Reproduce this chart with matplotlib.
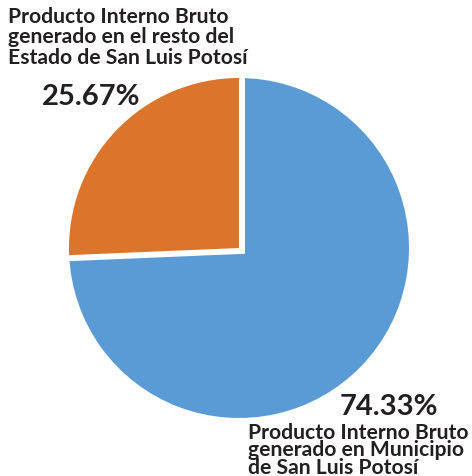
import matplotlib
matplotlib.use("Agg")
import matplotlib.pyplot as plt

# data
labels = [
    "Producto Interno Bruto\ngenerado en Municipio\nde San Luis Potosí",
    "Producto Interno Bruto\ngenerado en el resto del\nEstado de San Luis Potosí",
]
values = [74.33, 25.67]
colors = ["#5B9BD5", "#DB752C"]

plt.rcParams["font.family"] = ["Lato", "DejaVu Sans"]
text_color = "#231F20"

fig = plt.figure(figsize=(4.72, 4.77), dpi=100)
ax = fig.add_axes([0, 0, 1, 1])

r = 170
wedges, _ = ax.pie(values, colors=colors, startangle=90, counterclock=False,
                   center=(239, 477 - 249), radius=r)
# white gap cut into the big slice along its straight edges
gap = 12  # px, stroke width
wedges[0].set_radius(r + gap / 2)
wedges[0].set_edgecolor("white")
wedges[0].set_linewidth(gap * 72 / 100)
wedges[0].set_zorder(1)
wedges[1].set_zorder(2)

ax.set_xlim(0, 472)
ax.set_ylim(0, 477)
ax.set_aspect("auto")
ax.axis("off")

# labels
ax.text(8, 477 - 7, labels[1], ha="left", va="top", fontsize=15.2,
        fontweight="bold", color=text_color, linespacing=1.02)
ax.text(42, 477 - 84, f"{values[1]:.2f}%", ha="left", va="top", fontsize=21,
        fontweight="bold", color=text_color)
ax.text(438, 477 - 394, f"{values[0]:.2f}%", ha="right", va="top", fontsize=21,
        fontweight="bold", color=text_color)
ax.text(248, 477 - 423, labels[0], ha="left", va="top", fontsize=15.2,
        fontweight="bold", color=text_color, linespacing=0.84)

fig.savefig("out.png", dpi=100)
